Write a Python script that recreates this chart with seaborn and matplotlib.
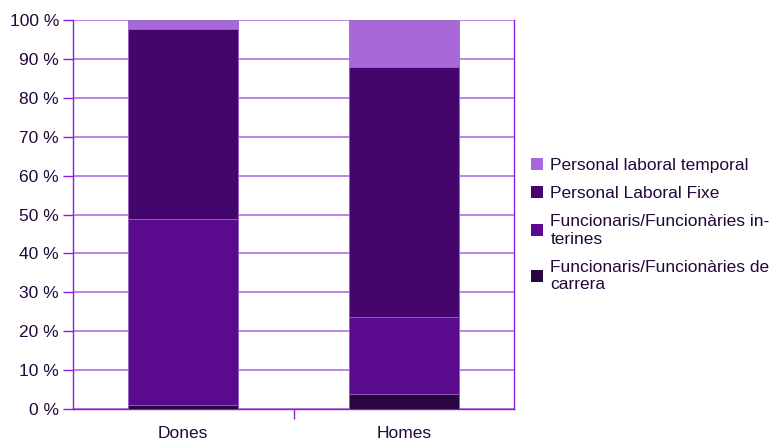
import matplotlib
matplotlib.use("Agg")
import matplotlib.pyplot as plt
import seaborn as sns
import numpy as np
import pandas as pd
from matplotlib.patches import Patch
from matplotlib.ticker import FixedLocator

categories = ["Dones", "Homes"]
series_names = [
    "Funcionaris/Funcionàries de\ncarrera",
    "Funcionaris/Funcionàries in-\nterines",
    "Personal Laboral Fixe",
    "Personal laboral temporal",
]
carrera = [1.0, 3.9]
interines = [47.8, 19.8]
fixe = [48.8, 64.2]
temporal = [2.4, 12.1]
colors = ["#2a0640", "#5a0a8e", "#44066c", "#a968d9"]
y_ticks = [0, 10, 20, 30, 40, 50, 60, 70, 80, 90, 100]
y_labels = [f"{v} %" for v in y_ticks]

sns.set_theme(style="white")
plt.rcParams["font.family"] = ["Liberation Sans", "DejaVu Sans"]
text_color = "#22083a"
axis_color = "#8a1ee0"
grid_color = "#b070e0"
fs = 12.5

fig = plt.figure(figsize=(7.8, 4.41), dpi=100)
ax = fig.add_axes([0.0936, 0.0726, 0.5654, 0.882])

stack = np.array([carrera, interines, fixe, temporal])
cum = np.cumsum(stack, axis=0)

# Draw the stacked bars from the tallest cumulative total down so each layer sits on top
for i in range(len(series_names) - 1, -1, -1):
    df = pd.DataFrame({"cat": categories, "val": cum[i]})
    sns.barplot(data=df, x="cat", y="val", color=colors[i], width=0.5,
                saturation=1, ax=ax, edgecolor="#9a6cc0", linewidth=0.6,
                zorder=3)

ax.set_ylim(0, 100)
ax.set_xlim(-0.5, 1.5)
ax.yaxis.set_major_locator(FixedLocator(y_ticks))
ax.set_yticklabels(y_labels)
ax.set_xlabel("")
ax.set_ylabel("")

ax.yaxis.grid(True, color=grid_color, linewidth=1.2, zorder=0)
ax.set_axisbelow(True)

for side in ["left", "bottom", "right", "top"]:
    ax.spines[side].set_visible(True)
    ax.spines[side].set_color(axis_color)
    ax.spines[side].set_linewidth(1.0)
ax.spines["top"].set_visible(False)

ax.tick_params(axis="y", which="major", left=True, length=7, width=1,
               color=axis_color, labelsize=fs, labelcolor=text_color, pad=3)
ax.tick_params(axis="x", which="major", bottom=False, labelsize=fs,
               labelcolor=text_color, pad=6)
ax.xaxis.set_minor_locator(FixedLocator([0.5]))
ax.tick_params(axis="x", which="minor", bottom=True, length=7, width=1,
               color=axis_color)

handles = [Patch(facecolor=colors[i], edgecolor="none")
           for i in range(len(series_names) - 1, -1, -1)]
labels = [series_names[i] for i in range(len(series_names) - 1, -1, -1)]
leg = fig.legend(handles, labels, loc="center left",
                 bbox_to_anchor=(0.661, 0.49), frameon=False,
                 fontsize=fs, handlelength=0.7, handleheight=0.7,
                 handletextpad=0.4, labelspacing=0.75)
for t in leg.get_texts():
    t.set_color(text_color)
    t.set_linespacing(1.2)

fig.savefig("out.png", dpi=100)
